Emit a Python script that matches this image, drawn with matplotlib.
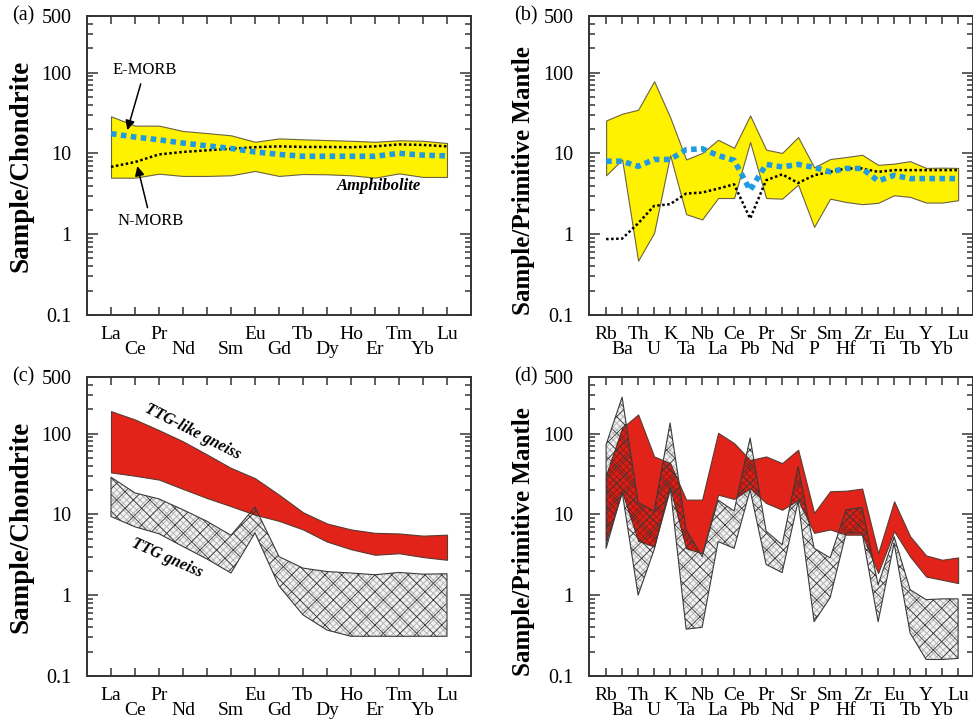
import matplotlib
matplotlib.use('Agg')
import matplotlib.pyplot as plt
import numpy as np
from matplotlib.ticker import NullFormatter, LogLocator

plt.rcParams['font.family'] = ['Liberation Serif', 'DejaVu Serif']
plt.rcParams['hatch.linewidth'] = 0.6

# element order on the x axes ('' = Pm, tick without label)
REE = ['La', 'Ce', 'Pr', 'Nd', '', 'Sm', 'Eu', 'Gd', 'Tb', 'Dy', 'Ho', 'Er', 'Tm', 'Yb', 'Lu']
SPIDER = ['Rb', 'Ba', 'Th', 'U', 'K', 'Ta', 'Nb', 'La', 'Ce', 'Pb', 'Pr', 'Nd', 'Sr', 'P',
          'Sm', 'Hf', 'Zr', 'Ti', 'Eu', 'Tb', 'Y', 'Yb', 'Lu']

# (a) amphibolite REE, chondrite normalised
amph_ree_hi = [28.7, 22, 22, 18.9, 17.8, 16.7, 13.9, 15.3, 14.9, 14.6, 14.3, 13.9, 14.5, 14.3, 13.4]
amph_ree_lo = [5.0, 5.0, 5.6, 5.25, 5.25, 5.35, 6.05, 5.25, 5.55, 5.5, 5.35, 5.0, 5.65, 5.1, 5.1]
emorb_ree = [17.5, 15.9, 14.7, 13.4, 12.4, 11.5, 10.4, 9.7, 9.2, 9.2, 9.2, 9.2, 10.0, 9.5, 9.3]
nmorb_ree = [6.8, 7.8, 9.7, 10.4, 10.9, 11.4, 11.9, 12.2, 12.0, 12.0, 11.9, 12.2, 12.9, 12.7, 12.2]

# (b) amphibolite trace elements, primitive mantle normalised
amph_pm_hi = [25.5, 30.9, 34.6, 78, 28, 8.4, 10.1, 14.7, 11.7, 29.4, 11.1, 10.1, 15.9, 6.7,
              8.5, 9.0, 9.6, 7.2, 7.45, 8.0, 6.6, 6.65, 6.6]
amph_pm_lo = [5.35, 8.4, 0.47, 1.04, 9.5, 1.77, 1.52, 2.8, 2.8, 13.8, 2.8, 2.75, 4.1, 1.23,
              2.75, 2.5, 2.35, 2.44, 3.03, 2.89, 2.46, 2.46, 2.63]
emorb_pm = [8.0, 8.0, 6.9, 8.4, 8.4, 11.1, 11.4, 9.4, 8.2, 3.5, 7.3, 6.8, 7.3, 6.7,
            5.9, 6.5, 6.5, 4.55, 5.35, 4.87, 4.87, 4.87, 4.87]
nmorb_pm = [0.87, 0.88, 1.36, 2.24, 2.35, 3.18, 3.27, 3.66, 4.14, 1.56, 4.64, 5.5, 4.3, 5.35,
            5.9, 6.5, 6.5, 5.9, 6.2, 6.2, 6.2, 6.2, 6.2]

# (c) gneiss REE
ttglike_ree_hi = [189, 149, 110, 80, 55, 37.5, 28, 17.5, 10.6, 7.7, 6.5, 5.9, 5.8, 5.45, 5.6]
ttglike_ree_lo = [33, 30, 26.9, 20.6, 15.9, 12.6, 9.9, 8.3, 6.5, 4.6, 3.7, 3.16, 3.3, 2.96, 2.74]
ttg_ree_hi = [28.8, 18.4, 15.5, 11.4, 8.2, 5.5, 12.3, 3.0, 2.16, 1.96, 1.88, 1.79, 1.91, 1.82, 1.84]
ttg_ree_lo = [9.4, 7.0, 5.75, 4.0, 2.8, 1.88, 5.9, 1.3, 0.57, 0.37, 0.31, 0.31, 0.31, 0.31, 0.31]

# (d) gneiss trace elements
ttglike_pm_hi = [31, 117, 172, 52, 43, 15.2, 15.2, 102, 76, 47, 52, 43, 63, 10.4,
                 19.3, 19.6, 20.8, 3.3, 14.5, 5.35, 3.1, 2.74, 2.93]
ttglike_pm_lo = [4.7, 19, 4.7, 4.0, 21, 3.8, 3.3, 17.5, 15.5, 21, 13.8, 11.4, 15, 5.9,
                 6.5, 5.6, 5.6, 1.88, 6.2, 3.0, 1.7, 1.55, 1.41]
ttg_pm_hi = [73, 282, 14, 11, 135, 6.5, 3.0, 15, 11, 88, 6.2, 4.2, 39, 3.8,
             2.9, 11.4, 12.2, 1.34, 5.3, 1.17, 0.88, 0.9, 0.9]
ttg_pm_lo = [3.8, 19, 1.0, 3.65, 22, 0.38, 0.4, 4.6, 3.8, 20, 2.4, 1.9, 14.5, 0.47,
             0.93, 5.9, 5.9, 0.47, 4.4, 0.34, 0.16, 0.16, 0.165]

YELLOW = '#fff200'
RED = '#e2231a'
BLUE = '#1e9be3'
SPINE = '#333333'

W, H = 973, 720
fig = plt.figure(figsize=(W / 100, H / 100), dpi=100)


def make_axes(left, top, right, bottom):
    return fig.add_axes([left / W, 1 - bottom / H, (right - left) / W, (bottom - top) / H])


def setup(ax, labels, xlim, ylabel, label_size, label_y, tag):
    n = len(labels)
    ax.set_yscale('log')
    ax.set_ylim(0.1, 500)
    ax.set_xlim(*xlim)
    ax.set_yticks([0.1, 1, 10, 100, 500])
    ax.set_yticklabels(['0.1', '1', '10', '100', '500'])
    ax.yaxis.set_minor_locator(LogLocator(subs=np.arange(2, 10)))
    ax.yaxis.set_minor_formatter(NullFormatter())
    even = np.arange(0, n, 2)
    odd = np.arange(1, n, 2)
    ax.set_xticks(even)
    ax.set_xticklabels([labels[i] for i in even])
    ax.set_xticks(odd, minor=True)
    ax.set_xticklabels([labels[i] for i in odd], minor=True)
    ax.tick_params(axis='both', which='both', direction='in', top=True, right=True,
                   colors=SPINE, labelcolor='black', width=1.1)
    ax.tick_params(axis='x', which='both', labelsize=14)
    ax.tick_params(axis='x', which='major', length=6, pad=8)
    ax.tick_params(axis='x', which='minor', length=6, pad=18.5)
    ax.tick_params(axis='y', which='major', length=8, pad=11, labelsize=14.5)
    ax.tick_params(axis='y', which='minor', length=4)
    for s in ax.spines.values():
        s.set_linewidth(1.4)
        s.set_color(SPINE)
    ax.set_ylabel(ylabel, fontsize=label_size, fontweight='bold')
    ax.yaxis.set_label_coords(-0.14, label_y)
    ax.text(-0.195, 1.0, tag, transform=ax.transAxes, ha='left', va='center', fontsize=14.5)


def hatched_band(ax, x, lo, hi):
    # fine translucent texture, then the coarse dark cross-hatch with outline
    ax.fill_between(x, lo, hi, facecolor=(0, 0, 0, 0.05), edgecolor=(0, 0, 0, 0.28),
                    hatch='xxxxx', lw=0.01)
    ax.fill_between(x, lo, hi, facecolor='none', edgecolor='#3a3a3a', hatch='xx', lw=0.8)


ax_a = make_axes(87, 16, 471, 315)
ax_b = make_axes(589, 16, 973, 315)
ax_c = make_axes(87, 377, 471, 676)
ax_d = make_axes(589, 377, 973, 676)

xr = np.arange(len(REE))
xs = np.arange(len(SPIDER))

# (a)
ax_a.fill_between(xr, amph_ree_lo, amph_ree_hi, facecolor=YELLOW, edgecolor='#6b6240', lw=0.8)
ax_a.plot(xr, nmorb_ree, color='black', lw=1.8, ls=(0, (1, 1)))
ax_a.plot(xr, emorb_ree, color=BLUE, lw=4, ls=(0, (1, 0.8)))
ax_a.annotate('E-MORB', xy=(0.65, 18), xytext=(1.4, 106), ha='center', va='center', fontsize=12,
              arrowprops=dict(arrowstyle='-|>', color='black', lw=1.1, mutation_scale=14))
ax_a.annotate('N-MORB', xy=(1.07, 7.5), xytext=(1.66, 1.45), ha='center', va='center', fontsize=12,
              arrowprops=dict(arrowstyle='-|>', color='black', lw=1.1, mutation_scale=14))
ax_a.text(11.15, 3.9, 'Amphibolite', ha='center', va='center', fontsize=12,
          fontweight='bold', fontstyle='italic')
setup(ax_a, REE, (-1.0, 15.0), 'Sample/Chondrite', 19.5, 0.5, '(a)')

# (b)
ax_b.fill_between(xs, amph_pm_lo, amph_pm_hi, facecolor=YELLOW, edgecolor='#6b6240', lw=0.8)
ax_b.plot(xs, nmorb_pm, color='black', lw=1.8, ls=(0, (1, 1)))
ax_b.plot(xs, emorb_pm, color=BLUE, lw=4, ls=(0, (1, 0.8)))
setup(ax_b, SPIDER, (-1.07, 22.93), 'Sample/Primitive Mantle', 18, 0.45, '(b)')

# (c)
ax_c.fill_between(xr, ttglike_ree_lo, ttglike_ree_hi, facecolor=RED, edgecolor='#5a3a30', lw=0.8)
hatched_band(ax_c, xr, ttg_ree_lo, ttg_ree_hi)
ax_c.text(3.4, 105, 'TTG-like gneiss', ha='center', va='center', rotation=-27, fontsize=11.5,
          fontweight='bold', fontstyle='italic')
ax_c.text(2.34, 2.9, 'TTG gneiss', ha='center', va='center', rotation=-24, fontsize=11.5,
          fontweight='bold', fontstyle='italic')
setup(ax_c, REE, (-1.0, 15.0), 'Sample/Chondrite', 19.5, 0.5, '(c)')

# (d)
ax_d.fill_between(xs, ttglike_pm_lo, ttglike_pm_hi, facecolor=RED, edgecolor='#5a3a30', lw=0.8)
hatched_band(ax_d, xs, ttg_pm_lo, ttg_pm_hi)
setup(ax_d, SPIDER, (-1.07, 22.93), 'Sample/Primitive Mantle', 18, 0.45, '(d)')

fig.savefig('out.png', dpi=100)
